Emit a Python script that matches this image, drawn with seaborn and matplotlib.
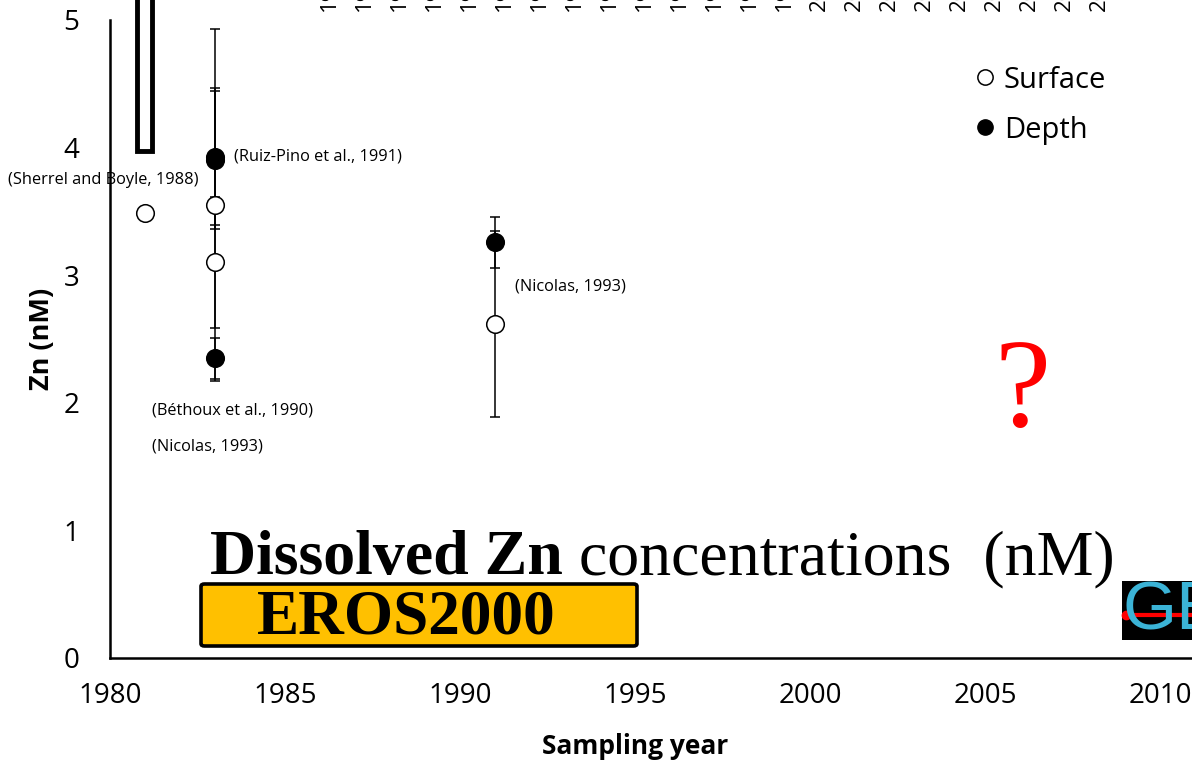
import numpy as np
import pandas as pd
import matplotlib
matplotlib.use("Agg")
import matplotlib.pyplot as plt
import matplotlib.transforms as mtransforms
from matplotlib.patches import Rectangle, FancyBboxPatch
from matplotlib.lines import Line2D
import seaborn as sns

# Data
surf_year = [1981, 1983, 1983, 1991]
surf_zn = [3.49, 3.55, 3.10, 2.62]
surf_err = [0.0, 1.38, 0.51, 0.73]

depth_year = [1983, 1983, 1983, 1991]
depth_zn = [3.93, 3.90, 2.35, 3.26]
depth_err = [0.54, 0.54, 0.16, 0.20]

x_ticks = [1980, 1985, 1990, 1995, 2000, 2005, 2010]
y_ticks = [0, 1, 2, 3, 4, 5]

# cut-off rotated year labels along the top edge
top_years = list(range(1986, 2009))

refs = [
    ("(Sherrel and Boyle, 1988)", 1977.09, 3.75),
    ("(Ruiz-Pino et al., 1991)", 1983.54, 3.93),
    ("(Béthoux et al., 1990)", 1981.20, 1.94),
    ("(Nicolas, 1993)", 1981.20, 1.66),
    ("(Nicolas, 1993)", 1991.57, 2.91),
]

sns.set_style("white")
plt.rcParams['font.family'] = ['Open Sans', 'DejaVu Sans']
plt.rcParams['text.color'] = 'black'
plt.rcParams['axes.labelcolor'] = 'black'

W, H = 1192, 764
fig = plt.figure(figsize=(W / 100, H / 100), dpi=100)
# axes run past the right edge of the figure, like the cropped original
ax = fig.add_axes([110 / W, (H - 658) / H, 1225 / W, 638 / H])

surf = pd.DataFrame({'year': surf_year, 'zn': surf_zn, 'err': surf_err})
depth = pd.DataFrame({'year': depth_year, 'zn': depth_zn, 'err': depth_err})

for df in (surf, depth):
    d = df[df['err'] > 0]
    ax.errorbar(d['year'], d['zn'], yerr=d['err'], fmt='none', ecolor='black',
                elinewidth=1.1, capsize=3.5, capthick=1.1, zorder=2)

sns.scatterplot(data=surf, x='year', y='zn', ax=ax, marker='o', s=160,
                facecolor='white', edgecolor='black', linewidth=1.1, zorder=3)
sns.scatterplot(data=depth, x='year', y='zn', ax=ax, marker='o', s=160,
                color='black', edgecolor='black', linewidth=1.1, zorder=3)

ax.set_xlim(1980, 2015)
ax.set_ylim(0, 5)
ax.set_xticks(x_ticks)
ax.set_yticks(y_ticks)
ax.tick_params(axis='both', direction='out', length=7, width=1.5,
               labelsize=20, color='black', labelcolor='black')
ax.tick_params(axis='x', pad=10)
ax.tick_params(axis='y', pad=15)
for side in ('top', 'right'):
    ax.spines[side].set_visible(False)
for side in ('left', 'bottom'):
    ax.spines[side].set_linewidth(1.8)
    ax.spines[side].set_color('black')

ax.set_xlabel('Sampling year', fontsize=19, fontweight='bold')
ax.set_ylabel('Zn (nM)', fontsize=19.5, fontweight='bold')
ax.xaxis.set_label_coords((635 - 110) / 1225, -0.118)
ax.yaxis.set_label_coords(-0.045, 0.5)

for txt, x, y in refs:
    ax.text(x, y, txt, fontsize=11.8, va='center', ha='left')

# tall open box running off the top
ax.add_patch(Rectangle((1980.77, 3.97), 0.43, 2.0, facecolor='white',
                       edgecolor='black', linewidth=3.5, clip_on=False, zorder=4))

# fragments of year labels cut by the top edge
trans_top = mtransforms.offset_copy(
    mtransforms.blended_transform_factory(ax.transData, fig.transFigure),
    fig=fig, x=9, y=0, units='dots')
for yr in top_years:
    ax.text(yr, 1 - 11 / H, str(yr), rotation=90, ha='center', va='bottom',
            fontsize=16, transform=trans_top, clip_on=False)

# legend
handles = [
    Line2D([], [], marker='o', linestyle='none', markersize=11,
           markerfacecolor='white', markeredgecolor='black', markeredgewidth=1.1),
    Line2D([], [], marker='o', linestyle='none', markersize=11,
           markerfacecolor='black', markeredgecolor='black'),
]
fig.legend(handles, ['Surface', 'Depth'], loc='upper left',
           bbox_to_anchor=(957 / W, 1 - 51 / H), frameon=False, fontsize=21,
           handlelength=0.9, handletextpad=0.2, labelspacing=0.72, borderpad=0)

# red question mark
ax.text(2006.06, 2.06, '?', color='red', fontsize=91, ha='center', va='center',
        family='Liberation Serif')

# title line in two weights
t1 = fig.text(210 / W, 1 - 588 / H, 'Dissolved Zn', fontsize=46, fontweight='bold',
              family='Liberation Serif', va='bottom', ha='left')
ax.annotate(' concentrations  (nM)', xy=(1, 0), xycoords=t1, va='bottom', ha='left',
            fontsize=46, family='Liberation Serif')

# EROS2000 badge
fig.patches.append(FancyBboxPatch((201 / W, 1 - 646 / H), 436 / W, 62 / H,
                                  boxstyle='round,pad=0,rounding_size=0.003',
                                  facecolor='#FFC000', edgecolor='black',
                                  linewidth=2.6, transform=fig.transFigure))
fig.text(406 / W, 1 - 619 / H, 'EROS2000', fontsize=45.5, fontweight='bold',
         family='Liberation Serif', ha='center', va='center')

# piece of a logo at the right edge
fig.patches.append(Rectangle((1122 / W, 1 - 640 / H), 80 / W, 59 / H,
                             facecolor='black', edgecolor='none',
                             transform=fig.transFigure))
fig.text(1123 / W, 1 - 611 / H, 'GE', color='#3BB3D6', fontsize=50,
         ha='left', va='center', family='Liberation Sans')
fig.lines.append(Line2D([1126 / W, 1], [1 - 615 / H, 1 - 615 / H], color='red',
                        linewidth=3, transform=fig.transFigure))
fig.lines.append(Line2D([1126 / W], [1 - 615 / H], marker='o', color='red',
                        markersize=6, transform=fig.transFigure))

fig.savefig('out.png', dpi=100)
